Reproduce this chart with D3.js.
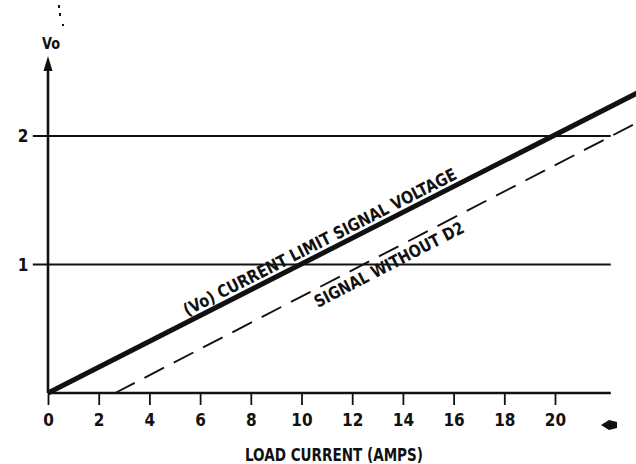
<!DOCTYPE html>
<html><head><meta charset="utf-8">
<script src="https://cdn.jsdelivr.net/npm/d3@7"></script>
<style>
html,body{margin:0;padding:0;background:#fff;}
text{font-family:"DejaVu Sans Condensed","DejaVu Sans",sans-serif;font-stretch:condensed;font-weight:bold;fill:#111;}
</style></head>
<body>
<svg id="c" width="636" height="464"></svg>
<script>
// Data
const xTickValues = [0, 2, 4, 6, 8, 10, 12, 14, 16, 18, 20];
const yTickValues = [1, 2];
const gridLevels = [1, 2];
const gridExtent = [-0.6, 22.2];
const limitCurrent = [0, 23.3];
const limitVoltage = [0, 2.34];
const noD2Current = [2.65, 23.3];
const noD2Voltage = [0, 2.11];
const xTitle = "LOAD CURRENT (AMPS)";
const yTitle = "Vo";
const limitLabel = "(Vo) CURRENT LIMIT SIGNAL VOLTAGE";
const noD2Label = "SIGNAL WITHOUT D2";

const svg = d3.select("#c");
const x = d3.scaleLinear().domain([0, 20]).range([48, 555]);
const y = d3.scaleLinear().domain([0, 2]).range([393, 136]);
const ink = "#111";

// horizontal reference lines
svg.selectAll("line.grid").data(gridLevels).join("line")
  .attr("class", "grid")
  .attr("x1", x(gridExtent[0])).attr("x2", x(gridExtent[1]))
  .attr("y1", d => y(d)).attr("y2", d => y(d))
  .attr("stroke", ink).attr("stroke-width", 1.8);

// x axis
const xAxis = d3.axisBottom(x).tickValues(xTickValues).tickSize(12).tickPadding(9).tickFormat(d3.format("d"));
const gx = svg.append("g").attr("transform", `translate(0,${y(0)})`).call(xAxis);
gx.select(".domain").remove();
gx.attr("font-family", null).attr("font-size", null);
gx.selectAll(".tick line").attr("stroke", ink).attr("stroke-width", 1.8);
gx.selectAll(".tick text").attr("font-size", 17).attr("fill", ink);
svg.append("line").attr("x1", x(0)).attr("x2", x(22.2)).attr("y1", y(0)).attr("y2", y(0))
  .attr("stroke", ink).attr("stroke-width", 2.4);

// y axis
svg.append("line").attr("x1", x(0)).attr("x2", x(0)).attr("y1", y(0)).attr("y2", 68)
  .attr("stroke", ink).attr("stroke-width", 2.6);
svg.append("path").attr("d", `M${x(0)},56 L${x(0)-4.5},71 L${x(0)+4.5},71 Z`).attr("fill", ink);
svg.selectAll("text.ytick").data(yTickValues).join("text")
  .attr("class", "ytick").attr("x", 23).attr("y", d => y(d)).attr("dy", "0.36em")
  .attr("text-anchor", "middle").attr("font-size", 17).text(d => d);
svg.append("text").attr("x", 51).attr("y", 49).attr("text-anchor", "middle")
  .attr("font-size", 16).attr("textLength", 18).attr("lengthAdjust", "spacingAndGlyphs").text(yTitle);

// lines
const line = d3.line().x(d => x(d[0])).y(d => y(d[1]));
svg.append("path").datum(d3.zip(limitCurrent, limitVoltage)).attr("d", line)
  .attr("fill", "none").attr("stroke", ink).attr("stroke-width", 5);
svg.append("path").datum(d3.zip(noD2Current, noD2Voltage)).attr("d", line)
  .attr("fill", "none").attr("stroke", ink).attr("stroke-width", 1.9).attr("stroke-dasharray", "22,11");

// rotated labels, placed relative to their lines
function angleOf(cs, vs) {
  return Math.atan2(y(vs[1]) - y(vs[0]), x(cs[1]) - x(cs[0])) * 180 / Math.PI;
}
function yOn(cs, vs, px) {
  const I = x.invert(px);
  const V = vs[0] + (I - cs[0]) * (vs[1] - vs[0]) / (cs[1] - cs[0]);
  return y(V);
}
const a1 = angleOf(limitCurrent, limitVoltage);
const s1 = 187;
svg.append("text")
  .attr("transform", `translate(${s1},${yOn(limitCurrent, limitVoltage, s1) - 6}) rotate(${a1})`)
  .attr("font-size", 17).attr("textLength", 304).attr("lengthAdjust", "spacingAndGlyphs")
  .text(limitLabel);
const a2 = angleOf(noD2Current, noD2Voltage);
const s2 = 318;
svg.append("text")
  .attr("transform", `translate(${s2},${yOn(noD2Current, noD2Voltage, s2) + 20}) rotate(${a2})`)
  .attr("font-size", 17).attr("textLength", 166).attr("lengthAdjust", "spacingAndGlyphs")
  .text(noD2Label);

// x title
svg.append("text").attr("x", 334).attr("y", 461).attr("text-anchor", "middle")
  .attr("font-size", 17).attr("textLength", 178).attr("lengthAdjust", "spacingAndGlyphs").text(xTitle);

// small arrow mark at bottom right
svg.append("path").attr("d", "M601,425 L609,420 L617,422 L617,428 L609,430 Z").attr("fill", ink);
// scan specks at top
svg.append("path").attr("d", "M58,5h2v3h-2z M59,13h2v3h-2z M62,24h2v2h-2z M49,59h0z").attr("fill", ink);
</script>
</body></html>
